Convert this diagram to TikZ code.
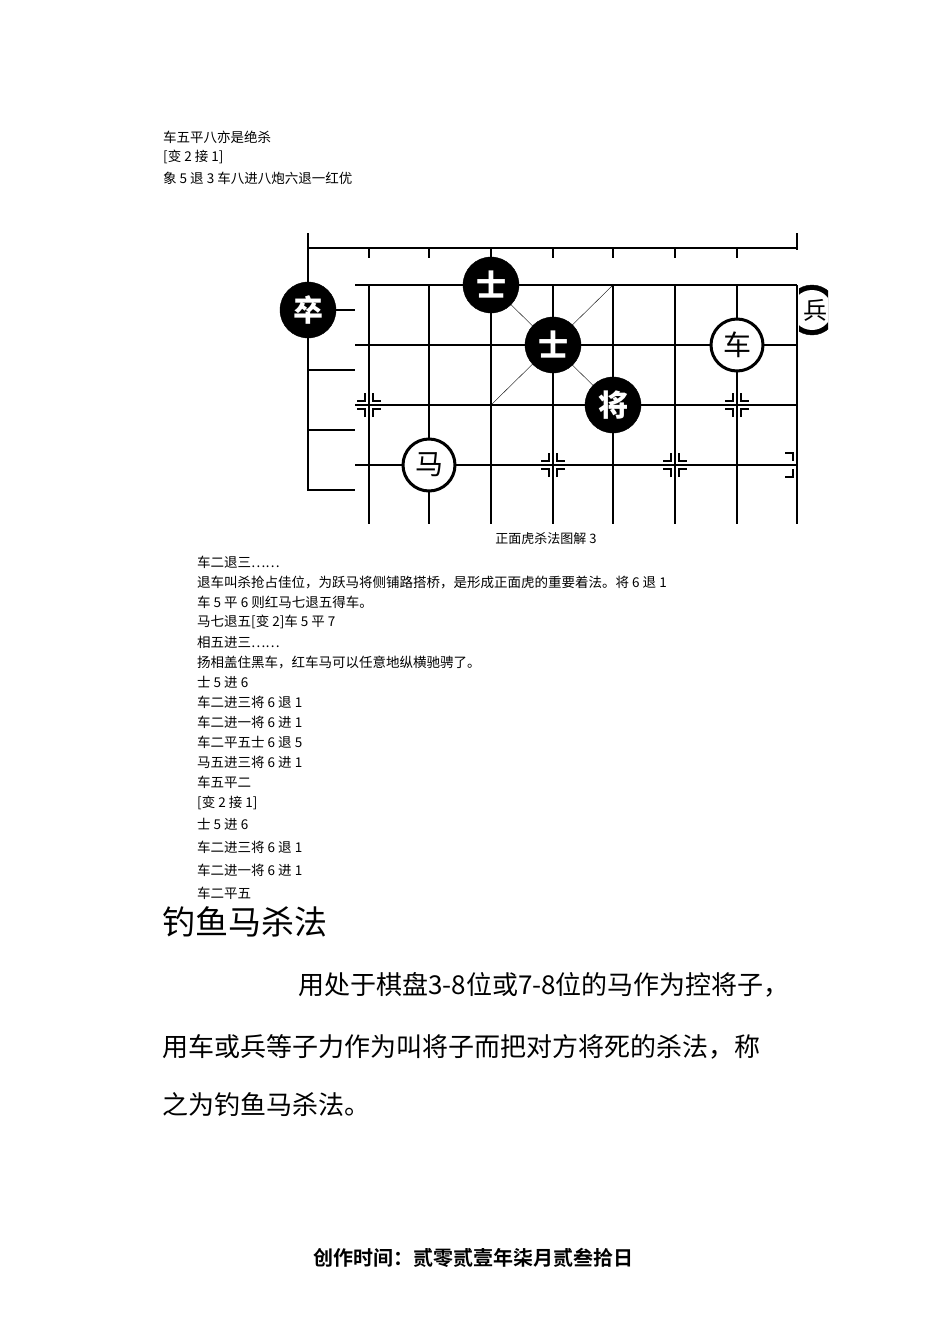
\documentclass[tikz,border=0pt]{standalone}
\usepackage{fontspec}
\setmainfont{Noto Sans CJK SC}
\newfontfamily\cjkb{Noto Sans CJK SC Bold}
\begin{document}
\begin{tikzpicture}[x=1pt,y=-1pt,
  txt/.style={anchor=west,inner sep=0pt,font=\fontsize{13.5}{13.5}\selectfont},
  ln/.style={line width=1.6pt},
  bp/.style={circle,fill=black,draw=black,minimum size=56pt,inner sep=0pt,text=white,font=\fontsize{30}{30}\selectfont\bfseries},
  wp/.style={circle,fill=white,draw=black,line width=3pt,minimum size=52pt,inner sep=0pt,font=\fontsize{28}{28}\selectfont}]
\useasboundingbox (0,0) rectangle (950,1343);
\node[txt] (t1) at (163,137) {车五平八亦是绝杀};
\node[txt] (t2) at (163,157) {[变 2 接 1]};
\node[txt] (t3) at (163,178) {象 5 退 3 车八进八炮六退一红优};
% back board
\draw[ln] (308,233) -- (308,490) -- (355,490);
\draw[ln] (797,233) -- (797,250);
\draw[ln] (308,248) -- (797,248);
\foreach \x in {369,429,491,553,613,675,737} \draw[ln] (\x,248) -- (\x,258);
\foreach \y in {370,430} \draw[ln] (308,\y) -- (355,\y);
\draw[ln] (308,310) -- (355,310);
\node[bp] (zu) at (308,310) {卒};
\begin{scope}
\clip (760,270) rectangle (828,350);
\node[bp,minimum size=50pt] (ed) at (812,310) {};
\node[circle,fill=white,minimum size=40pt] (ed2) at (812,310) {};
\node[font=\fontsize{24}{24}\selectfont] (ed3) at (815,310) {兵};
\end{scope}
% front board
\fill[white] (355,272) rectangle (799,524);
\foreach \x in {369,429,491,553,613,675,737,797} \draw[ln] (\x,285) -- (\x,524);
\foreach \y in {285,345,405,465} \draw[ln] (355,\y) -- (797,\y);
\draw[thin] (491,285) -- (613,405);
\draw[thin] (613,285) -- (491,405);
\foreach \px/\py in {369/405,737/405,553/465,675/465}{
  \begin{scope}[shift={(\px,\py)}]
  \draw[line width=1.2pt] (-4,-12)--(-4,-4)--(-12,-4) (4,-12)--(4,-4)--(12,-4) (-4,12)--(-4,4)--(-12,4) (4,12)--(4,4)--(12,4);
  \end{scope}}
\draw[line width=1.2pt] (785,453)--(793,453)--(793,461) (785,477)--(793,477)--(793,469);
\node[bp] (s1) at (491,285) {士};
\node[bp] (s2) at (553,345) {士};
\node[bp] (jiang) at (613,405) {将};
\node[wp] (che) at (737,345) {车};
\node[wp] (ma) at (429,465) {马};
\node[font=\fontsize{13}{13}\selectfont] (cap) at (546,539) {正面虎杀法图解 3};
\node[txt] (a1) at (197,562) {车二退三……};
\node[txt] (a2) at (197,582) {退车叫杀抢占佳位，为跃马将侧铺路搭桥，是形成正面虎的重要着法。将 6 退 1};
\node[txt] (a3) at (197,602) {车 5 平 6 则红马七退五得车。};
\node[txt] (a4) at (197,622) {马七退五[变 2]车 5 平 7};
\node[txt] (a5) at (197,642) {相五进三……};
\node[txt] (a6) at (197,662) {扬相盖住黑车，红车马可以任意地纵横驰骋了。};
\node[txt] (a7) at (197,682) {士 5 进 6};
\node[txt] (a8) at (197,702) {车二进三将 6 退 1};
\node[txt] (a9) at (197,722) {车二进一将 6 进 1};
\node[txt] (a10) at (197,742) {车二平五士 6 退 5};
\node[txt] (a11) at (197,762) {马五进三将 6 进 1};
\node[txt] (a12) at (197,782) {车五平二};
\node[txt] (a13) at (197,803) {[变 2 接 1]};
\node[txt] (a14) at (197,824) {士 5 进 6};
\node[txt] (a15) at (197,847) {车二进三将 6 退 1};
\node[txt] (a16) at (197,870) {车二进一将 6 进 1};
\node[txt] (a17) at (197,893) {车二平五};
\node[txt,font=\fontsize{33}{33}\selectfont] (h) at (162,922) {钓鱼马杀法};
\node[txt,font=\fontsize{26}{26}\selectfont] (p1) at (298,985) {用处于棋盘3-8位或7-8位的马作为控将子，};
\node[txt,font=\fontsize{26}{26}\selectfont] (p2) at (162,1047) {用车或兵等子力作为叫将子而把对方将死的杀法，称};
\node[txt,font=\fontsize{26}{26}\selectfont] (p3) at (162,1105) {之为钓鱼马杀法。};
\node[font=\fontsize{20}{20}\selectfont\cjkb] (f) at (473,1258) {创作时间：贰零贰壹年柒月贰叁拾日};
\end{tikzpicture}
\end{document}
